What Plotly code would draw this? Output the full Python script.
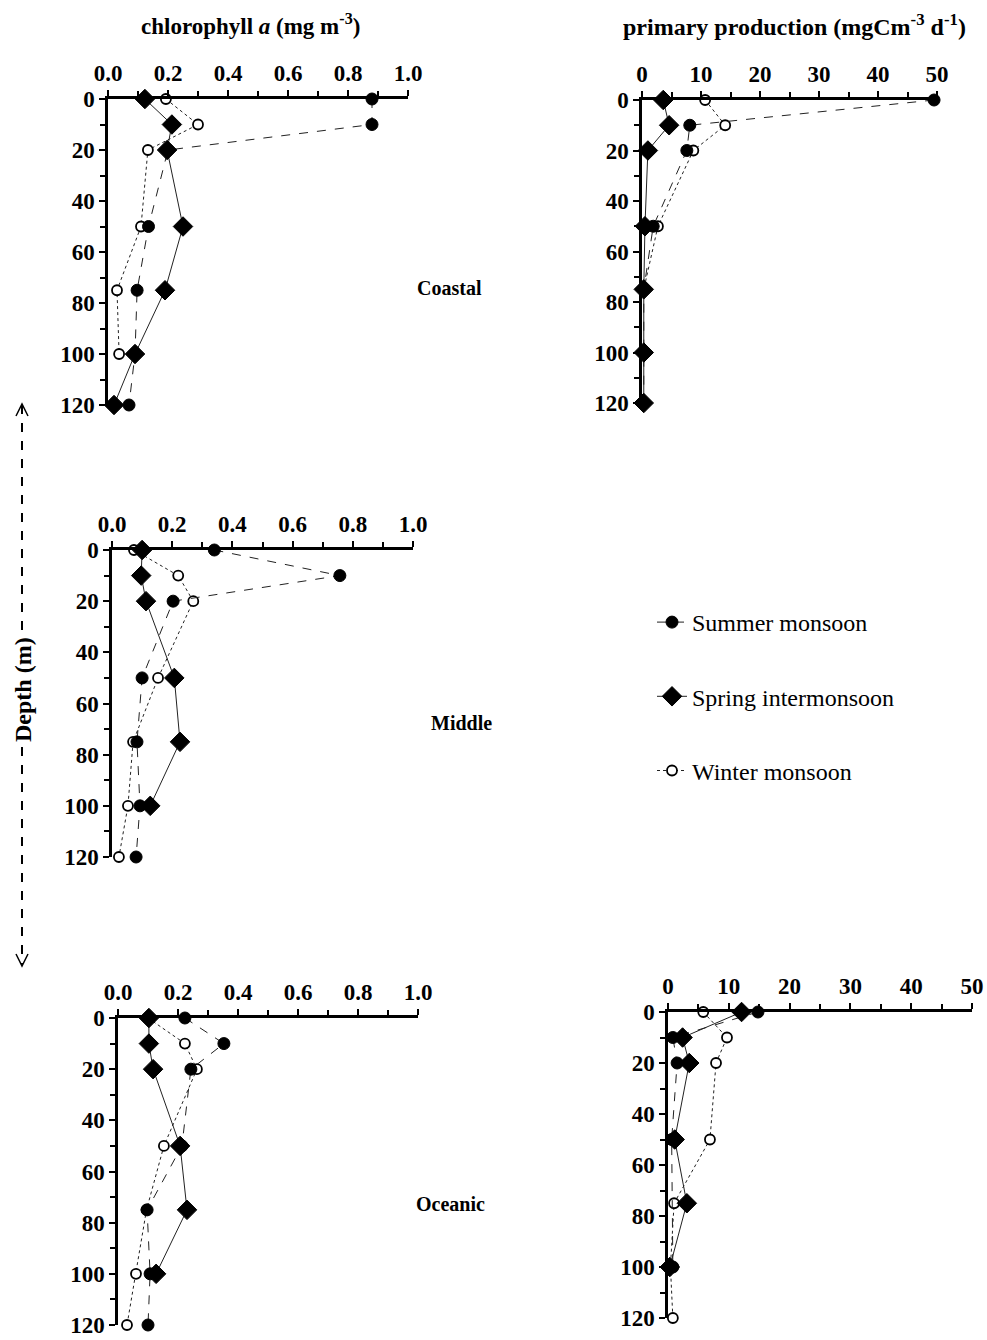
import plotly.graph_objects as go

W, H = 987, 1340

# Sampling depths (m)
depth = [0, 10, 20, 50, 75, 100, 120]

# Chlorophyll a (mg m-3)
chl_coastal_summer = [0.88, 0.88, 0.20, 0.135, 0.097, 0.09, 0.07]
chl_coastal_spring = [0.123, 0.213, 0.197, 0.25, 0.19, 0.09, 0.02]
chl_coastal_winter = [0.193, 0.30, 0.133, 0.11, 0.03, 0.037, None]

chl_middle_summer = [0.34, 0.757, 0.203, 0.10, 0.083, 0.093, 0.08]
chl_middle_spring = [0.10, 0.097, 0.113, 0.207, 0.226, 0.127, None]
chl_middle_winter = [0.073, 0.22, 0.27, 0.153, 0.07, 0.053, 0.023]

chl_oceanic_summer = [0.223, 0.353, 0.243, 0.213, 0.097, 0.107, 0.10]
chl_oceanic_spring = [0.103, 0.103, 0.117, 0.207, 0.23, 0.127, None]
chl_oceanic_winter = [0.10, 0.223, 0.263, 0.153, 0.095, 0.06, 0.03]

# Primary production (mgC m-3 d-1)
pp_coastal_summer = [49.5, 8.1, 7.6, 1.9, 0.3, 0.3, 0.3]
pp_coastal_spring = [3.6, 4.6, 1.0, 0.5, 0.3, 0.3, 0.3]
pp_coastal_winter = [10.7, 14.1, 8.7, 2.7, 0.3, None, None]

pp_oceanic_summer = [14.8, 0.8, 1.5, 0.6, None, 0.8, None]
pp_oceanic_spring = [12.1, 2.4, 3.5, 1.1, 3.1, 0.3, None]
pp_oceanic_winter = [5.8, 9.7, 7.9, 6.9, 1.0, 0.4, 0.8]

seasons = ["Summer monsoon", "Spring intermonsoon", "Winter monsoon"]

chl_ticks = [0.0, 0.2, 0.4, 0.6, 0.8, 1.0]
pp_ticks = [0, 10, 20, 30, 40, 50]
depth_ticks = [0, 20, 40, 60, 80, 100, 120]

SERIF = "Liberation Serif"


def px(x):
    return x / W


def py(y):
    return 1 - y / H


# (series, x-range, x-ticks, minor dtick, pixel box: left, right, top, bottom)
panels = [
    ((chl_coastal_summer, chl_coastal_spring, chl_coastal_winter), [0, 1], chl_ticks, 0.1, (108, 408, 99, 405)),
    ((pp_coastal_summer, pp_coastal_spring, pp_coastal_winter), [0, 50], pp_ticks, 5, (642, 937, 100, 403)),
    ((chl_middle_summer, chl_middle_spring, chl_middle_winter), [0, 1], chl_ticks, 0.1, (112, 413, 550, 857)),
    ((chl_oceanic_summer, chl_oceanic_spring, chl_oceanic_winter), [0, 1], chl_ticks, 0.1, (118, 418, 1018, 1325)),
    ((pp_oceanic_summer, pp_oceanic_spring, pp_oceanic_winter), [0, 50], pp_ticks, 5, (668, 972, 1012, 1318)),
]

styles = [
    dict(marker=dict(symbol="circle", size=12, color="black", line=dict(color="black", width=1)),
         line=dict(color="#222", width=1, dash="dash")),
    dict(marker=dict(symbol="diamond", size=15, color="black", line=dict(color="black", width=1)),
         line=dict(color="#222", width=1)),
    dict(marker=dict(symbol="circle", size=10, color="white", line=dict(color="black", width=1.8)),
         line=dict(color="#222", width=1, dash="dot")),
]

# Open circles go underneath, diamonds on top; legend keeps the season order
draw_order = [2, 0, 1]

fig = go.Figure()
layout = dict(
    width=W, height=H,
    margin=dict(l=0, r=0, t=0, b=0, autoexpand=False),
    paper_bgcolor="white", plot_bgcolor="white",
    font=dict(family=SERIF, color="black"),
)

tick_font = dict(family=SERIF, size=23, color="black", weight="bold")

for i, (series, xr, xt, minor, (l, r, t, b)) in enumerate(panels, start=1):
    xa = "x" if i == 1 else f"x{i}"
    ya = "y" if i == 1 else f"y{i}"
    for j in draw_order:
        fig.add_trace(go.Scatter(
            x=series[j], y=depth, xaxis=xa, yaxis=ya,
            mode="lines+markers", name=seasons[j],
            legendgroup=seasons[j], legendrank=j + 1, showlegend=(i == 1),
            cliponaxis=False, connectgaps=True,
            **styles[j],
        ))
    xkey = "xaxis" if i == 1 else f"xaxis{i}"
    ykey = "yaxis" if i == 1 else f"yaxis{i}"
    ticktext = [f"{v:.1f}" for v in xt] if xr[1] == 1 else [str(v) for v in xt]
    layout[xkey] = dict(
        domain=[px(l), px(r)], anchor=ya, side="top", range=xr,
        tickvals=xt, ticktext=ticktext, tickfont=tick_font, automargin=False,
        showline=True, linecolor="black", linewidth=2.5,
        ticks="outside", ticklen=6, tickwidth=2, tickcolor="black",
        minor=dict(dtick=minor, ticks="outside", ticklen=5, tickwidth=1.5, tickcolor="black", showgrid=False),
        showgrid=False, zeroline=False, fixedrange=True,
    )
    layout[ykey] = dict(
        domain=[py(b), py(t)], anchor=xa, range=[120, 0],
        tickvals=depth_ticks, tickfont=tick_font, automargin=False,
        showline=True, linecolor="black", linewidth=2.5,
        ticks="outside", ticklen=6, tickwidth=2, tickcolor="black",
        minor=dict(dtick=10, ticks="outside", ticklen=5, tickwidth=1.5, tickcolor="black", showgrid=False),
        showgrid=False, zeroline=False, fixedrange=True,
    )


def label(text, x, y, size, **kw):
    return dict(text=text, x=px(x), y=py(y), xref="paper", yref="paper",
                xanchor="center", yanchor="middle", showarrow=False,
                font=dict(family=SERIF, size=size, color="black", weight="bold"), **kw)


layout["annotations"] = [
    label("chlorophyll <i>a</i> (mg m<sup>-3</sup>)", 250, 25, 23),
    label("primary production (mgCm<sup>-3</sup> d<sup>-1</sup>)", 794, 25, 24),
    label("Coastal", 449, 288, 20),
    label("Middle", 461, 723, 20),
    label("Oceanic", 450, 1204, 20),
    label("Depth (m)", 23, 690, 24, textangle=-90, bgcolor="white"),
]

# Dashed depth guide with open arrowheads at both ends
ax_x = px(22)
layout["shapes"] = [
    dict(type="line", xref="paper", yref="paper", x0=ax_x, x1=ax_x, y0=py(405), y1=py(965),
         line=dict(color="black", width=2, dash="dash"), layer="below"),
    dict(type="path", xref="paper", yref="paper",
         path=f"M {px(16)},{py(416)} L {px(22)},{py(404)} L {px(28)},{py(416)}",
         line=dict(color="black", width=1.5)),
    dict(type="path", xref="paper", yref="paper",
         path=f"M {px(16)},{py(954)} L {px(22)},{py(966)} L {px(28)},{py(954)}",
         line=dict(color="black", width=1.5)),
]

layout["legend"] = dict(
    x=px(652), y=py(600), xanchor="left", yanchor="top",
    font=dict(family=SERIF, size=24, color="black"),
    traceorder="grouped", tracegroupgap=40, bgcolor="rgba(0,0,0,0)", borderwidth=0,
    itemclick=False, itemdoubleclick=False,
)
layout["showlegend"] = True

fig.update_layout(**layout)
fig.write_html("out.html")
